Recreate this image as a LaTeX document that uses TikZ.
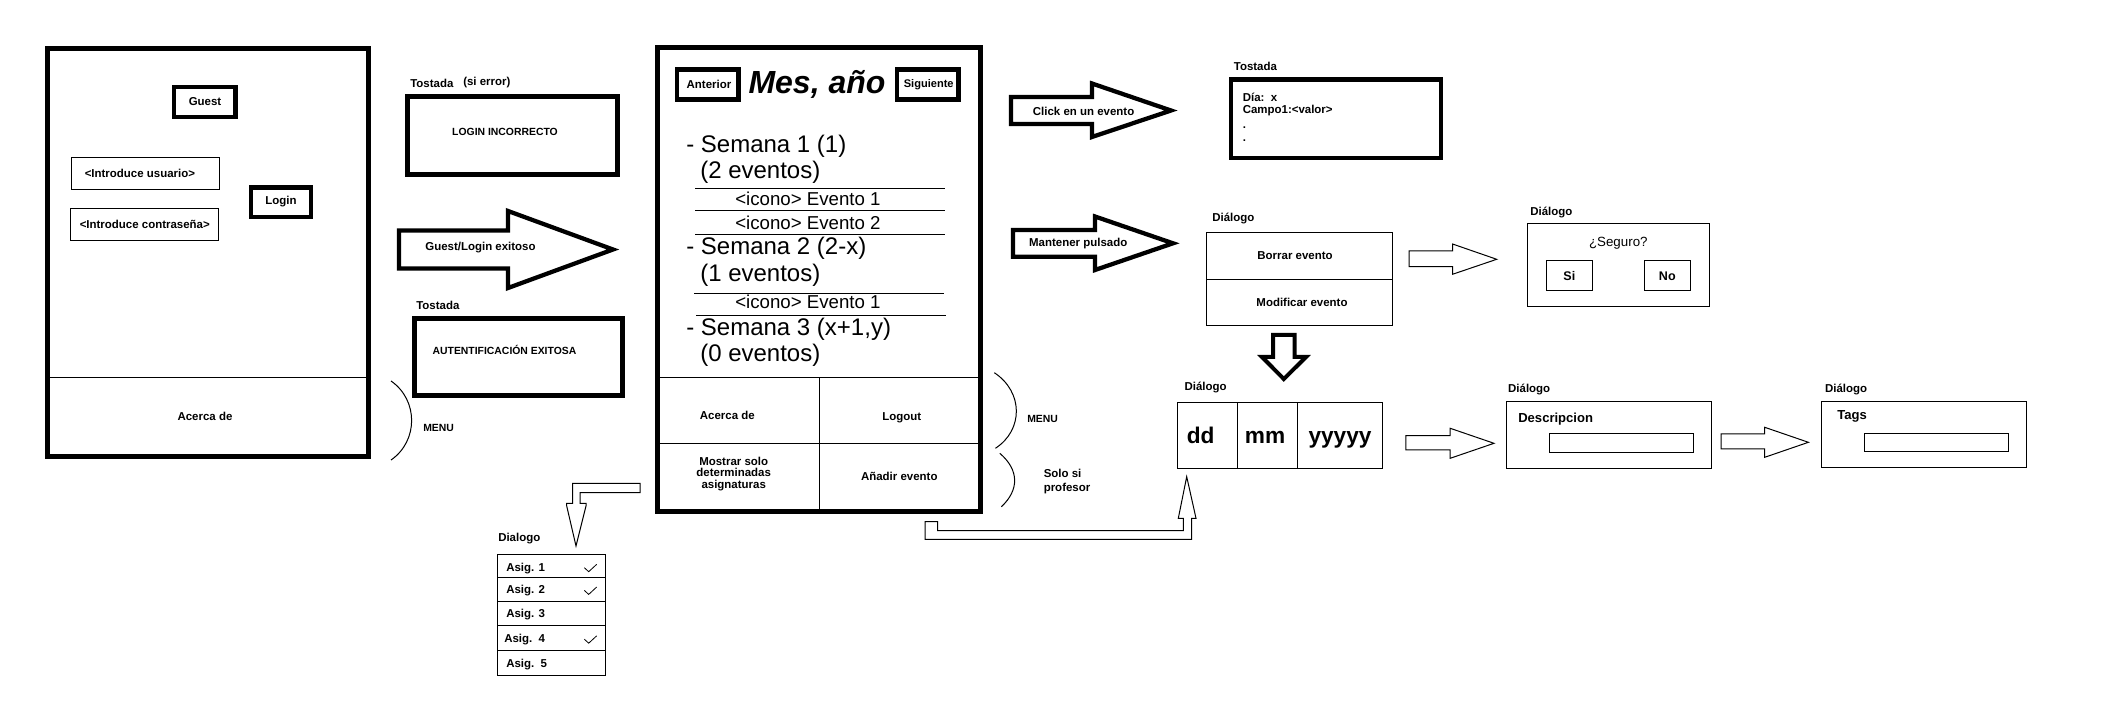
\documentclass[tikz,border=0pt]{standalone}
\usepackage{fontspec}
\setmainfont{Liberation Sans}
\begin{document}
\begin{tikzpicture}[x=0.75pt,y=-0.75pt,
  frame/.style={draw,line width=3.75pt},
  btn/.style={draw,line width=3.2pt},
  thinbox/.style={draw,line width=0.75pt},
  blockarrow/.style={draw,line width=3.2pt,line join=miter},
  hollowarrow/.style={draw,line width=0.75pt,line join=miter},
  lbl/.style={inner sep=0pt,font=\fontsize{8.6}{10.3}\selectfont\bfseries},
  toasttxt/.style={inner sep=0pt,font=\fontsize{7.8}{9.4}\selectfont\bfseries},
  weektxt/.style={inner sep=0pt,anchor=base west,font=\fontsize{18}{21}\selectfont},
  evtxt/.style={inner sep=0pt,anchor=base west,font=\fontsize{14}{16}\selectfont},
  datetxt/.style={inner sep=0pt,anchor=base,font=\fontsize{17}{20}\selectfont\bfseries},
  brace/.style={draw,line width=0.75pt}
]
\useasboundingbox (0,0) rectangle (2112,712);

% ---------- Login screen ----------
\draw[frame] (47,49) rectangle (368,457);
\draw[thinbox] (47,378) -- (368,378);
\node[lbl] (acerca1) at (205,416) {Acerca de};
\draw[btn] (174,87) rectangle (235.5,117);
\node[lbl] (guest) at (205,102) {Guest};
\draw[thinbox] (71.4,158) rectangle (219.6,189.3);
\node[lbl,anchor=west] (usuario) at (84.5,173.5) {<Introduce usuario>};
\draw[thinbox] (70.5,209) rectangle (218.7,240.3);
\node[lbl,anchor=west] (pass) at (79.5,224.7) {<Introduce contraseña>};
\draw[btn] (251,187.5) rectangle (311,217);
\node[lbl] (login) at (281,202) {Login};

% ---------- toast error ----------
\node[lbl,anchor=west] (tost1) at (410,83) {Tostada};
\node[lbl,anchor=west] (sierror) at (463,83) {(si error)};
\draw[frame] (407.5,96.5) rectangle (617,175);
\node[toasttxt] (incorrecto) at (505,132) {LOGIN INCORRECTO};

% ---------- big arrow ----------
\draw[blockarrow] (399,230.5) -- (508,230.5) -- (508,211) -- (613,249.5) -- (508,288) -- (508,268.5) -- (399,268.5) -- cycle;
\node[lbl] (exitoso) at (480.5,248) {Guest/Login exitoso};

% ---------- toast success ----------
\node[lbl,anchor=west] (tost2) at (416,305) {Tostada};
\draw[frame] (414,319) rectangle (622.5,396);
\node[toasttxt] (autent) at (504.5,350) {AUTENTIFICACIÓN EXITOSA};

% menu brace left
\draw[brace] (391,381) .. controls (418.5,400) and (418.5,441) .. (391,460);
\node[toasttxt,anchor=west] (menu1) at (423,428) {MENU};

% ---------- main calendar screen ----------
\draw[frame] (657.5,47.5) rectangle (980,511);
\draw[btn] (677,69.5) rectangle (738.5,99.5);
\node[lbl] (anterior) at (709,84.5) {Anterior};
\node[inner sep=0pt,anchor=base,font=\fontsize{24}{28}\selectfont\bfseries\itshape] (mes) at (817,93.3) {Mes, año};
\draw[btn] (897,69.5) rectangle (958.5,99.5);
\node[inner sep=0pt,font=\fontsize{8.3}{10}\selectfont\bfseries] (siguiente) at (928.7,85) {Siguiente};

\node[weektxt] (s1) at (686,152.7) {- Semana 1 (1)};
\node[weektxt] (s1e) at (700,178.3) {(2 eventos)};
\draw[thinbox] (695,188.3) -- (945,188.3);
\node[evtxt] (e11) at (735,206) {<icono> Evento 1};
\draw[thinbox] (695,210.3) -- (945,210.3);
\node[evtxt] (e12) at (735,230) {<icono> Evento 2};
\draw[thinbox] (695,234.3) -- (945,234.3);
\node[weektxt] (s2) at (686,255) {- Semana 2 (2-x)};
\node[weektxt] (s2e) at (700,281.7) {(1 eventos)};
\draw[thinbox] (694,293.3) -- (944,293.3);
\node[evtxt] (e21) at (735,308.3) {<icono> Evento 1};
\draw[thinbox] (696,315.3) -- (946,315.3);
\node[weektxt] (s3) at (686,336) {- Semana 3 (x+1,y)};
\node[weektxt] (s3e) at (700,361.7) {(0 eventos)};

\draw[thinbox] (657.5,377.3) -- (980,377.3);
\draw[thinbox] (657.5,443.3) -- (980,443.3);
\draw[thinbox] (819.3,377.3) -- (819.3,511);
\node[lbl] (acerca2) at (727.3,415) {Acerca de};
\node[lbl] (logout) at (901.7,417.3) {Logout};
\node[lbl,align=center,font=\fontsize{8.6}{8.7}\selectfont\bfseries] (mostrar) at (733.7,474) {Mostrar solo\\determinadas\\asignaturas};
\node[lbl] (anadir) at (899.3,476) {Añadir evento};

% braces right of main
\draw[brace] (994.3,372.7) .. controls (1023.5,392) and (1023.5,430) .. (995.4,448.3);
\node[toasttxt,anchor=west] (menu2) at (1027,419.3) {MENU};
\draw[brace] (999.8,453.3) .. controls (1019.3,470) and (1019.3,490) .. (1001.4,506.7);
\node[lbl,anchor=west,align=left,font=\fontsize{8.6}{10}\selectfont\bfseries] (solosi) at (1043.5,481.7) {Solo si\\profesor};

% ---------- L arrow to subject list ----------
\draw[hollowarrow] (572.7,483.3) -- (640,483.3) -- (640,492.7) -- (580,492.7) -- (580,503.3) -- (586,503.3) -- (586,506) -- (576,546) -- (566.7,506) -- (566.7,503.3) -- (572.7,503.3) -- cycle;
\node[lbl,anchor=west] (dialogo0) at (498,539) {Dialogo};
\draw[thinbox] (497.3,554.3) rectangle (605,675);
\foreach \yy in {577.3,601.7,625.7,650} \draw[thinbox] (497.3,\yy) -- (605,\yy);
\node[lbl,anchor=west] (a1) at (506,569) {Asig. 1};
\node[lbl,anchor=west] (a2) at (506,591) {Asig. 2};
\node[lbl,anchor=west] (a3) at (506,615) {Asig. 3};
\node[lbl,anchor=west] (a4) at (504,639.3) {Asig.~~4};
\node[lbl,anchor=west] (a5) at (506,664.3) {Asig.~~5};
\foreach \dy in {0,22.7,71.5}
  \draw[line width=0.6pt] (584.3,567.7+\dy) -- (588.7,571.7+\dy) -- (596.7,564.3+\dy);

% ---------- L arrow to date dialog ----------
\draw[hollowarrow] (925,521.7) -- (937.7,521.7) -- (937.7,530.7) -- (1183.3,530.7) -- (1183.3,518.3) -- (1178.3,518.3) -- (1186.7,476.7) -- (1196,518.3) -- (1191.7,518.3) -- (1191.7,539.3) -- (925,539.3) -- cycle;

% ---------- click arrow & toast ----------
\draw[blockarrow] (1011,97) -- (1092,97) -- (1092,83.5) -- (1171,110.5) -- (1092,137) -- (1092,124) -- (1011,124) -- cycle;
\node[lbl] (click) at (1083.6,111) {Click en un evento};
\node[lbl,anchor=west] (tost3) at (1233.6,66) {Tostada};
\draw[btn] (1231,79.5) rectangle (1441,158);
\node[lbl,anchor=west] (dia) at (1242.5,97.3) {Día:~~x};
\node[lbl,anchor=west] (campo) at (1242.5,111) {Campo1:<valor>};
\node[lbl,anchor=west] (dot1) at (1242.5,127.3) {.};
\node[lbl,anchor=west] (dot2) at (1242.5,140.7) {.};

% ---------- hold arrow & dialog ----------
\draw[blockarrow] (1013,230) -- (1095,230) -- (1095,216.5) -- (1173,243.3) -- (1095,270) -- (1095,256.8) -- (1013,256.8) -- cycle;
\node[lbl] (mantener) at (1078.2,244) {Mantener pulsado};
\node[lbl,anchor=west] (dialogo1) at (1212,218.3) {Diálogo};
\draw[thinbox] (1206.5,232.3) rectangle (1392.5,325.3);
\draw[thinbox] (1206.5,279.3) -- (1392.5,279.3);
\node[lbl] (borrar) at (1295,256) {Borrar evento};
\node[lbl] (modificar) at (1302,302) {Modificar evento};

\draw[hollowarrow] (1409,251) -- (1452.5,251) -- (1452.5,244) -- (1496.7,259.3) -- (1452.5,274.3) -- (1452.5,266.7) -- (1409,266.7) -- cycle;

% seguro dialog
\node[lbl,anchor=west] (dialogo2) at (1530,212.3) {Diálogo};
\draw[thinbox] (1527.3,223.3) rectangle (1709.3,306.7);
\node[inner sep=0pt,font=\fontsize{10}{12}\selectfont] (seguro) at (1618.3,243) {¿Seguro?};
\draw[thinbox] (1546,261) rectangle (1592.7,291);
\node[inner sep=0pt,font=\fontsize{9.4}{11}\selectfont\bfseries] (si) at (1569.3,276.5) {Si};
\draw[thinbox] (1644,261) rectangle (1690.7,291);
\node[inner sep=0pt,font=\fontsize{9.4}{11}\selectfont\bfseries] (no) at (1667.3,276.5) {No};

% down arrow
\draw[blockarrow,line width=3pt] (1273,335) -- (1294.5,335) -- (1294.5,357) -- (1306,357) -- (1283.8,379) -- (1262,357) -- (1273,357) -- cycle;

% date dialog
\node[lbl,anchor=west] (dialogo3) at (1184.3,387.3) {Diálogo};
\draw[thinbox] (1177,402.3) rectangle (1382.8,468.3);
\draw[thinbox] (1237,402.3) -- (1237,468.3);
\draw[thinbox] (1297.8,402.3) -- (1297.8,468.3);
\node[datetxt] (dd) at (1200.7,444) {dd};
\node[datetxt] (mm) at (1265,444) {mm};
\node[datetxt] (yy) at (1340,444) {yyyyy};

\draw[hollowarrow] (1405.9,435.7) -- (1450.2,435.7) -- (1450.2,428.3) -- (1494,443.3) -- (1450.2,458.3) -- (1450.2,450) -- (1405.9,450) -- cycle;

% descripcion dialog
\node[lbl,anchor=west] (dialogo4) at (1507.9,390) {Diálogo};
\draw[thinbox] (1506,402) rectangle (1711.3,468.3);
\node[inner sep=0pt,anchor=west,font=\fontsize{9.8}{12}\selectfont\bfseries] (descr) at (1518,418.7) {Descripcion};
\draw[thinbox] (1549.8,434) rectangle (1693.6,452.3);

\draw[hollowarrow] (1721,434) -- (1764.7,434) -- (1764.7,427.3) -- (1808.4,442.3) -- (1764.7,457.3) -- (1764.7,449) -- (1721,449) -- cycle;

% tags dialog
\node[lbl,anchor=west] (dialogo5) at (1824.8,389.3) {Diálogo};
\draw[thinbox] (1821,401.3) rectangle (2026.3,467.3);
\node[inner sep=0pt,anchor=west,font=\fontsize{9.8}{12}\selectfont\bfseries] (tags) at (1837,416.7) {Tags};
\draw[thinbox] (1864.8,433.3) rectangle (2008,451.3);
\end{tikzpicture}
\end{document}
